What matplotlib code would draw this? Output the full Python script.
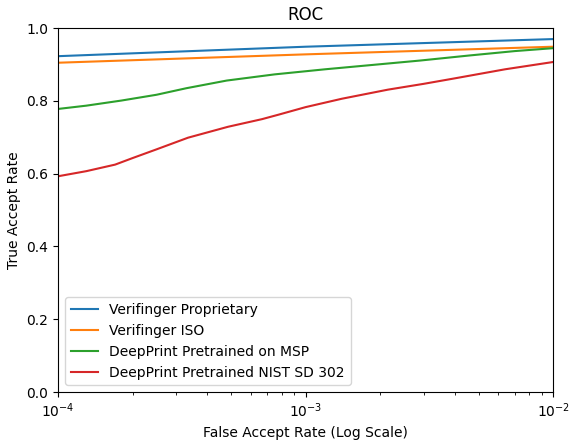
import matplotlib.pyplot as plt
import numpy as np

# false accept rates (log scale) and true accept rates
far_blue = [1e-4, 1e-3, 1e-2]
tar_blue = [0.923, 0.949, 0.970]

far_orange = [1e-4, 1e-3, 1e-2]
tar_orange = [0.905, 0.928, 0.949]

far_green = [1.0e-4, 1.3e-4, 1.8e-4, 2.5e-4, 3.3e-4, 4.8e-4, 7.5e-4,
             1.2e-3, 1.8e-3, 2.9e-3, 4.6e-3, 7.0e-3, 1.0e-2]
tar_green = [0.778, 0.787, 0.801, 0.817, 0.835, 0.856, 0.873,
             0.887, 0.898, 0.911, 0.925, 0.937, 0.945]

far_red = [1.0e-4, 1.3e-4, 1.7e-4, 2.0e-4, 2.5e-4, 3.35e-4, 4.86e-4, 6.67e-4,
           7.75e-4, 1.0e-3, 1.4e-3, 2.15e-3, 3.0e-3, 4.0e-3, 6.4e-3, 1.0e-2]
tar_red = [0.593, 0.607, 0.625, 0.643, 0.667, 0.699, 0.729, 0.750,
           0.762, 0.783, 0.806, 0.831, 0.847, 0.862, 0.887, 0.907]

labels = ["Verifinger Proprietary", "Verifinger ISO",
          "DeepPrint Pretrained on MSP", "DeepPrint Pretrained NIST SD 302"]

fig = plt.figure(figsize=(5.75, 4.4), dpi=100)
ax = fig.add_axes([0.101, 0.109, 0.861, 0.827])
ax.plot(far_blue, tar_blue, label=labels[0])
ax.plot(far_orange, tar_orange, label=labels[1])
ax.plot(far_green, tar_green, label=labels[2])
ax.plot(far_red, tar_red, label=labels[3])
ax.set_xscale("log")
ax.set_xlim(1e-4, 1e-2)
ax.set_ylim(0, 1)
ax.set_xlabel("False Accept Rate (Log Scale)")
ax.set_ylabel("True Accept Rate")
ax.set_title("ROC")
ax.legend(loc="lower left")
fig.savefig("out.png")
